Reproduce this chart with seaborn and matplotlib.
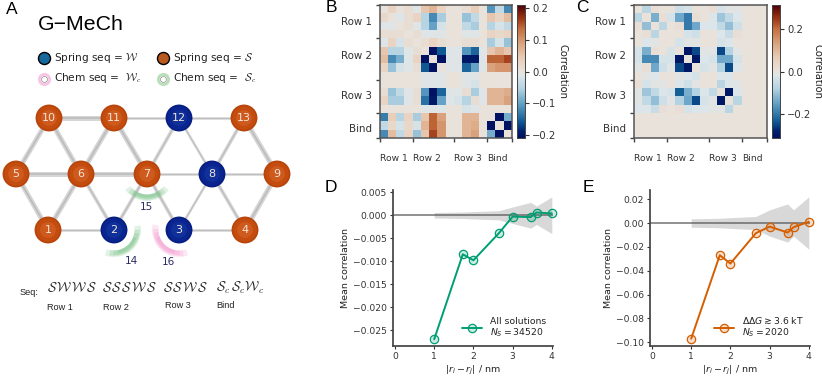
import numpy as np
import pandas as pd
import matplotlib
matplotlib.use("Agg")
import matplotlib.pyplot as plt
from matplotlib.colors import LinearSegmentedColormap
from matplotlib.patches import Wedge
import seaborn as sns

W, H = 822, 383

# panel A, schematic
node_ids = [1, 2, 3, 4, 5, 6, 7, 8, 9, 10, 11, 12, 13]
node_x = [48, 114, 179, 245, 16, 81, 147, 212, 277, 49, 114, 179, 244]
node_y = [230, 230, 230, 230, 174, 174, 174, 174, 174, 118, 118, 118, 118]
node_kind = ["S", "W", "W", "S", "S", "S", "S", "W", "S", "S", "S", "W", "S"]
thick_edges = [(1, 5), (1, 6), (4, 9), (5, 6), (6, 7), (5, 10), (6, 10), (6, 11), (7, 11), (9, 13), (10, 11)]
medium_edges = [(2, 6), (2, 7), (3, 7), (4, 8), (7, 12), (8, 13)]
thin_edges = [(1, 2), (3, 4), (3, 8), (7, 8), (8, 9), (8, 12), (11, 12), (12, 13)]

# panels B, C
tick_pos = [0, 4, 9, 13, 16]
tick_names = ["Row 1", "Row 2", "Row 3", "Bind", ""]
ylab_pos = [1.9, 6.0, 10.8, 14.8]
ylab_names = ["Row 1", "Row 2", "Row 3", "Bind"]

corr_b = [
    [.00, .03, .00, .01, -.01, .05, .07, .03, .00, .00, .01, .04, .00, -.11, -.04, -.12],
    [.02, .00, -.01, .01, .03, -.05, -.12, -.06, .00, .00, -.07, -.04, .00, .05, .03, .06],
    [-.01, -.01, .00, .01, -.01, -.05, -.10, -.02, .00, .00, -.04, -.06, .00, -.05, -.02, -.04],
    [.01, .01, .01, .00, .01, -.01, -.01, -.01, .00, .00, -.01, -.01, .00, .03, .02, .03],
    [-.01, .03, -.02, .01, .00, .01, .03, .01, .00, .00, .01, .01, .00, -.06, -.02, -.07],
    [.05, -.05, -.05, -.01, .01, .00, -.25, -.16, -.01, -.01, -.11, -.15, -.01, .05, .07, .05],
    [.06, -.12, -.09, -.01, .03, -.25, .00, -.25, -.01, -.01, -.20, -.20, -.01, .14, .14, .16],
    [.03, -.07, -.02, -.01, .01, -.16, -.25, .00, -.01, -.01, -.15, -.10, -.01, .09, .10, .10],
    [.00, .00, .00, .00, .00, -.01, -.01, -.01, .00, .00, -.01, -.01, .00, .00, .00, .00],
    [.00, .00, .00, .00, .00, -.01, -.01, -.01, .00, .00, -.01, -.02, .00, .00, .00, .00],
    [.01, -.07, -.04, -.01, .01, -.11, -.22, -.15, -.01, -.01, .01, -.06, -.01, .07, .07, .08],
    [.03, -.06, -.06, -.01, .01, -.14, -.20, -.10, -.01, -.02, -.05, .01, -.01, .07, .07, .09],
    [.00, .00, .00, .00, .00, -.01, -.01, -.01, .00, .00, -.02, -.01, .00, .00, .00, .00],
    [-.13, .04, -.05, .03, -.06, .05, .14, .09, .00, .00, .07, .07, .00, .00, -.25, -.09],
    [-.04, .02, -.02, .02, -.02, .07, .14, .10, .00, .00, .07, .08, .00, -.25, .00, -.25],
    [-.12, .06, -.04, .03, -.07, .05, .16, .10, .00, .00, .07, .09, .00, -.09, -.25, .00],
]
corr_c = [
    [.00, -.07, .01, .00, .00, -.04, -.03, .00, .00, .01, -.03, -.01, -.01, .00, .00, .00],
    [-.07, .00, -.13, .01, -.03, -.14, -.20, .01, .00, -.02, -.10, -.06, -.02, .00, .00, .00],
    [.01, -.11, .00, -.07, .00, .01, -.20, -.14, -.02, -.02, -.06, -.11, -.04, .00, .00, .00],
    [.00, .01, -.07, .00, .00, .00, -.03, -.04, .00, .00, -.02, -.05, .01, .00, .00, .00],
    [.00, -.02, -.01, .00, .00, -.03, -.01, -.01, .00, .00, -.03, -.02, .00, .00, .00, .00],
    [-.03, -.13, .01, .00, -.03, .00, -.30, -.25, -.01, -.01, -.25, -.08, -.01, .00, .00, .00],
    [-.03, -.18, -.18, -.03, -.03, -.30, .00, -.30, -.02, -.03, -.14, -.14, -.03, .00, .00, .00],
    [-.01, .01, -.14, -.04, -.01, -.25, -.30, .00, -.03, -.01, -.08, -.25, -.02, .00, .00, .00],
    [.00, -.01, -.02, .00, .00, -.01, -.02, -.03, .00, .00, -.02, -.02, .00, .00, .00, .00],
    [.01, -.03, -.01, -.01, .00, -.02, -.04, -.01, .00, .00, -.07, -.02, -.01, .00, .00, .00],
    [-.01, -.10, -.06, -.02, -.03, -.23, -.13, -.08, -.02, -.06, .00, -.30, -.02, .00, .00, .00],
    [-.01, -.06, -.11, -.04, -.01, -.08, -.14, -.25, -.03, -.01, -.30, .00, -.07, .00, .00, .00],
    [-.02, -.02, -.05, .01, .00, .01, -.03, -.02, -.02, -.01, -.01, -.07, .00, .00, .00, .00],
    [.00] * 16,
    [.00] * 16,
    [.00] * 16,
]

# panels D, E
dist = [1, 1.73, 2, 2.65, 3, 3.46, 3.61, 4]
mean_all = [-.027, -.0085, -.0098, -.0039, -.0003, -.0004, .0006, .0004]
band_all = [.0006, .0007, .0008, .001, .0018, .0028, .002, .004]
mean_sel = [-.097, -.027, -.034, -.0085, -.003, -.008, -.0035, .001]
band_sel = [.0035, .004, .0045, .0055, .011, .016, .011, .022]

sns.set_theme(style="ticks")
plt.rcParams["font.family"] = ["DejaVu Sans"]
plt.rcParams["axes.edgecolor"] = "#444444"
plt.rcParams["xtick.color"] = "#333333"
plt.rcParams["ytick.color"] = "#333333"
plt.rcParams["text.color"] = "#222222"
plt.rcParams["axes.labelcolor"] = "#222222"


def box(x0, y0, x1, y1):
    # pixel box, y from the top, to figure fractions
    return [x0 / W, 1 - y1 / H, (x1 - x0) / W, (y1 - y0) / H]


vik = LinearSegmentedColormap.from_list("vik_like", [
    (0, "#001261"), (.05, "#00206e"), (.12, "#0f5a94"), (.25, "#5c9cc2"), (.37, "#b3d2e2"), (.47, "#dde6e9"),
    (.5, "#e8e2dc"), (.6, "#e9cdb8"), (.7, "#dca884"), (.82, "#c46f3e"), (.91, "#96300f"), (1, "#4d0008"),
])

fig = plt.figure(figsize=(W / 100, H / 100), dpi=100)

# ---- panel A drawn in pixel coordinates
ax_a = fig.add_axes([0, 0, 1, 1])
ax_a.set_xlim(0, W)
ax_a.set_ylim(H, 0)
ax_a.axis("off")

pos = dict(zip(node_ids, zip(node_x, node_y)))
for edges, lw in [(thick_edges, 3.6), (medium_edges, 2.6), (thin_edges, 1.9)]:
    for a, b in edges:
        xs = [pos[a][0], pos[b][0]]
        ys = [pos[a][1], pos[b][1]]
        ax_a.plot(xs, ys, color="#d6d6d6", lw=lw, zorder=1, solid_capstyle="butt")
        ax_a.plot(xs, ys, color="#bdbdbd", lw=lw * 0.35, zorder=1.1, solid_capstyle="butt")


def crescent(cx, cy, t0, t1, color):
    # nested wedges so the band tapers towards its ends
    mid = (t0 + t1) / 2
    half = (t1 - t0) / 2
    for k, a in [(1.0, .22), (.85, .25), (.7, .3), (.5, .35)]:
        dr = 6.5 * k
        ax_a.add_patch(Wedge((cx, cy), 20.5 + dr, mid - half * k, mid + half * k, width=dr,
                             fc=color, ec="none", alpha=a, zorder=1.5))


crescent(147, 174, 36, 144, "#7cc48a")
crescent(114, 230, -10, 110, "#7cc48a")
crescent(179, 230, 70, 192, "#f59ad0")

nodes = pd.DataFrame({"x": node_x, "y": node_y, "kind": node_kind})
shade = {"S": ["#b8450b", "#c44c0f", "#cf5a1e"], "W": ["#071f82", "#0a2590", "#10309a"]}
for i, s in enumerate([375, 280, 130]):
    sns.scatterplot(data=nodes, x="x", y="y", hue="kind", palette={k: v[i] for k, v in shade.items()},
                    s=s, linewidth=0, legend=False, ax=ax_a, zorder=2 + i * .1)
ax_a.set_xlim(0, W)
ax_a.set_ylim(H, 0)
ax_a.axis("off")
for n, x, y in zip(node_ids, node_x, node_y):
    ax_a.text(x, y, str(n), color="#f4e6da", fontsize=8, ha="center", va="center", zorder=3)

ax_a.text(12, 9, "A", fontsize=12.5, family="Liberation Sans", ha="center", va="center", color="black")
ax_a.text(38, 24, "G\u2212MeCh", fontsize=15.3, family="Liberation Sans", ha="left", va="center", color="black")

ax_a.scatter([44], [58], s=75, c="#17689c", edgecolors="black", linewidths=1)
ax_a.scatter([163], [58], s=75, c="#b9591f", edgecolors="black", linewidths=1)
ax_a.scatter([44], [79], s=55, c="white", edgecolors="#f9c4e4", linewidths=2)
ax_a.scatter([163], [79], s=55, c="white", edgecolors="#b9dfb9", linewidths=2)
ax_a.scatter([44], [79], s=18, c="white", edgecolors="#888888", linewidths=.5)
ax_a.scatter([163], [79], s=18, c="white", edgecolors="#888888", linewidths=.5)
ax_a.text(54, 58, r"Spring seq = $\mathcal{W}$", fontsize=7.6, va="center", math_fontfamily="cm")
ax_a.text(173, 58, r"Spring seq = $\mathcal{S}$", fontsize=7.6, va="center", math_fontfamily="cm")
ax_a.text(54, 78, r"Chem seq =  $\mathcal{W}_c$", fontsize=7.6, va="center", math_fontfamily="cm")
ax_a.text(173, 78, r"Chem seq =  $\mathcal{S}_c$", fontsize=7.6, va="center", math_fontfamily="cm")

for n, x, y in [("14", 131, 261), ("15", 146, 207), ("16", 168, 262)]:
    ax_a.text(x, y, n, color="#2b2b63", fontsize=7.5, ha="center", va="center")

ax_a.text(20, 292.5, "Seq:", fontsize=6.6, family="Liberation Sans", va="center")
for x, s in [(47, r"$\mathcal{S}\,\mathcal{W}\,\mathcal{W}\,\mathcal{S}$"),
             (102, r"$\mathcal{S}\,\mathcal{S}\,\mathcal{S}\,\mathcal{W}\,\mathcal{S}$"),
             (163, r"$\mathcal{S}\,\mathcal{S}\,\mathcal{W}\,\mathcal{S}$"),
             (216, r"$\mathcal{S}_c\,\mathcal{S}_c\mathcal{W}_c$")]:
    ax_a.text(x, 288, s, fontsize=9.5, va="center", math_fontfamily="cm")
for x, y, s in [(47, 307, "Row 1"), (103, 307, "Row 2"), (165, 306, "Row 3"), (216, 306, "Bind")]:
    ax_a.text(x, y, s, fontsize=6.6, family="Liberation Sans", va="center")


# ---- heatmaps
def draw_heat(values, rect, cbar_rect, lim, ticks, labelpad):
    ax = fig.add_axes(box(*rect))
    cax = fig.add_axes(box(*cbar_rect))
    sns.heatmap(pd.DataFrame(values), ax=ax, cbar_ax=cax, cmap=vik, vmin=-lim, vmax=lim,
                square=False, cbar_kws={"ticks": ticks})
    ax.set_xticks(tick_pos)
    ax.set_xticklabels(tick_names, rotation=0, ha="left", fontsize=6.6)
    ax.tick_params(axis="x", length=3, width=1, pad=8.5, color="#444444")
    ax.set_yticks(tick_pos)
    ax.set_yticklabels([])
    ax.tick_params(axis="y", which="major", length=3, width=1, color="#444444")
    ax.set_yticks(ylab_pos, minor=True)
    ax.set_yticklabels(ylab_names, minor=True, fontsize=7.4)
    ax.tick_params(axis="y", which="minor", length=0, pad=5.5, left=False)
    for sp in ax.spines.values():
        sp.set_visible(True)
        sp.set_linewidth(1.1)
        sp.set_color("#555555")
    cax.tick_params(labelsize=7.2, length=3, width=.8, pad=2)
    cax.set_ylabel("Correlation", rotation=270, fontsize=7.2, labelpad=labelpad)
    for sp in cax.spines.values():
        sp.set_visible(True)
        sp.set_linewidth(.6)
    return ax


draw_heat(corr_b, (379.5, 5, 512, 138), (517, 5, 525, 138), .21, [-.2, -.1, 0, .1, .2], 8)
draw_heat(corr_c, (634, 5, 766.5, 138), (772, 5, 780, 138), .313, [-.2, 0, .2], 8)


# ---- line panels
def draw_line(y, band, color, rect, xlim, ylim, yticks, fmt, label, leg_anchor):
    ax = fig.add_axes(box(*rect))
    df = pd.DataFrame({"dist": dist, "corr": y})
    low = [-b for b in band]
    ax.fill_between(dist, low, band, color="#d8d8d8", lw=0, zorder=1)
    ax.axhline(0, color="#555555", alpha=.65, lw=1.4, zorder=2)
    sns.lineplot(data=df, x="dist", y="corr", color=color, lw=1.4, marker="o", ms=6, mfc=color + "33",
                 mec=color, mew=.9, errorbar=None, label=label, ax=ax, zorder=3, clip_on=False)
    ax.set_xlim(*xlim)
    ax.set_ylim(*ylim)
    ax.set_xticks([0, 1, 2, 3, 4])
    ax.set_yticks(yticks)
    ax.set_yticklabels([(fmt % t).replace("-", "\u2212") for t in yticks])
    ax.tick_params(labelsize=6.6, length=2.5, width=.8, pad=2)
    ax.set_xlabel(r"$|r_i - r_j|$ / nm", fontsize=6.8, labelpad=2)
    ax.set_ylabel("Mean correlation", fontsize=6.8, labelpad=2)
    sns.despine(ax=ax)
    ax.legend(loc="lower left", bbox_to_anchor=leg_anchor, frameon=False, fontsize=6.7, handlelength=2.2,
              handletextpad=.8, labelspacing=0, borderpad=0, borderaxespad=0)
    for t in ax.get_legend().get_texts():
        t.set_linespacing(1.05)
    return ax


draw_line(mean_all, band_all, "#009e73", (393, 190, 553, 345.7), (-.05, 4.03), (-.0284, .0055),
          [-.025, -.02, -.015, -.01, -.005, 0, .005], "%.3f", "All solutions\n$N_S = 34520$", (.431, .044))
draw_line(mean_sel, band_sel, "#d55e00", (650, 190, 810, 345.7), (-.05, 4.03), (-.1029, .0277),
          [-.1, -.08, -.06, -.04, -.02, 0, .02], "%.2f", "$\\Delta\\Delta G \\gtrsim 3.6$ kT\n$N_S = 2020$", (.40, .044))

# panel letters
ax_top = fig.add_axes([0, 0, 1, 1], facecolor="none")
ax_top.set_xlim(0, W)
ax_top.set_ylim(H, 0)
ax_top.axis("off")
for x, y, s in [(331, 7, "B"), (582, 7, "C"), (331, 187, "D"), (588, 187, "E")]:
    ax_top.text(x, y, s, fontsize=12.5, family="Liberation Sans", ha="center", va="center", color="black")

fig.savefig("out.png", dpi=100)
